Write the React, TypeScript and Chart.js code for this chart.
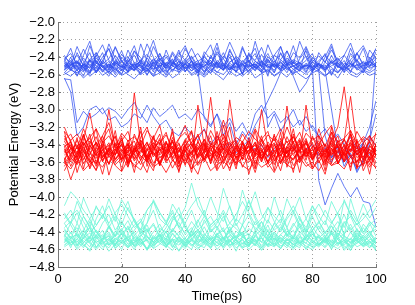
import React, { useEffect, useRef } from "react";
import { Chart, registerables } from "chart.js";

Chart.register(...registerables);

const TIME_PS = [2,4,6,8,10,12,14,16,18,20,22,24,26,28,30,32,34,36,38,40,42,44,46,48,50,52,54,56,58,60,62,64,66,68,70,72,74,76,78,80,82,84,86,88,90,92,94,96,98,100];
const X_TICKS = [0,20,40,60,80,100];
const Y_MIN = -4.8;
const Y_MAX = -2.0;
const Y_STEP = 0.2;

// Blue trajectories (eV)
const blue01 = [-2.52,-2.48,-2.55,-2.41,-2.50,-2.58,-2.46,-2.52,-2.38,-2.49,-2.56,-2.51,-2.44,-2.53,-2.60,-2.47,-2.50,-2.42,-2.55,-2.49,-2.52,-2.58,-2.45,-2.50,-2.36,-2.48,-2.54,-2.51,-2.47,-2.59,-2.50,-2.44,-2.53,-2.48,-2.56,-2.41,-2.50,-2.55,-2.47,-2.52,-2.49,-2.57,-2.43,-2.51,-2.54,-2.48,-2.50,-2.46,-2.53,-2.49];
const blue02 = [-2.47,-2.55,-2.50,-2.62,-2.44,-2.53,-2.40,-2.31,-2.48,-2.56,-2.45,-2.52,-2.58,-2.49,-2.43,-2.51,-2.61,-2.47,-2.52,-2.45,-2.39,-2.50,-2.57,-2.46,-2.53,-2.49,-2.60,-2.44,-2.51,-2.48,-2.55,-2.47,-2.36,-2.52,-2.49,-2.58,-2.45,-2.50,-2.54,-2.46,-2.52,-2.49,-2.61,-2.47,-2.53,-2.44,-2.55,-2.50,-2.48,-2.52];
const blue03 = [-2.58,-2.50,-2.44,-2.53,-2.27,-2.46,-2.55,-2.49,-2.60,-2.51,-2.46,-2.38,-2.52,-2.56,-2.48,-2.43,-2.50,-2.57,-2.45,-2.53,-2.49,-2.44,-2.58,-2.51,-2.47,-2.55,-2.40,-2.52,-2.48,-2.57,-2.45,-2.50,-2.59,-2.47,-2.53,-2.44,-2.51,-2.56,-2.30,-2.49,-2.55,-2.46,-2.52,-2.58,-2.47,-2.51,-2.43,-2.54,-2.50,-2.47];
const blue04 = [-2.45,-2.53,-2.61,-2.48,-2.52,-2.44,-2.57,-2.50,-2.46,-2.33,-2.51,-2.55,-2.47,-2.60,-2.50,-2.45,-2.53,-2.48,-2.42,-2.56,-2.50,-2.47,-2.53,-2.59,-2.46,-2.51,-2.55,-2.43,-2.49,-2.52,-2.48,-2.57,-2.44,-2.51,-2.28,-2.47,-2.54,-2.50,-2.58,-2.45,-2.51,-2.55,-2.47,-2.42,-2.50,-2.56,-2.48,-2.53,-2.45,-2.51];
const blue05 = [-2.50,-2.46,-2.52,-2.57,-2.43,-2.50,-2.55,-2.62,-2.48,-2.44,-2.53,-2.49,-2.55,-2.41,-2.51,-2.58,-2.46,-2.50,-2.54,-2.47,-2.56,-2.50,-2.43,-2.52,-2.48,-2.35,-2.51,-2.57,-2.49,-2.45,-2.53,-2.48,-2.50,-2.55,-2.46,-2.52,-2.60,-2.47,-2.51,-2.43,-2.49,-2.54,-2.50,-2.46,-2.57,-2.52,-2.44,-2.51,-2.56,-2.48];
const blue06 = [-2.42,-2.55,-2.35,-2.50,-2.60,-2.38,-2.52,-2.45,-2.58,-2.40,-2.48,-2.55,-2.25,-2.45,-2.57,-2.36,-2.50,-2.43,-2.58,-2.47,-2.40,-2.53,-2.60,-2.38,-2.49,-2.55,-2.31,-2.47,-2.59,-2.44,-2.52,-2.37,-2.50,-2.58,-2.43,-2.33,-2.51,-2.46,-2.57,-2.40,-2.49,-2.55,-2.38,-2.52,-2.44,-2.58,-2.35,-2.50,-2.46,-2.30];
const blue07 = [-2.55,-2.49,-2.46,-2.52,-2.48,-2.56,-2.44,-2.51,-2.53,-2.59,-2.47,-2.50,-2.45,-2.54,-2.62,-2.49,-2.52,-2.46,-2.50,-2.57,-2.44,-2.51,-2.48,-2.55,-2.50,-2.42,-2.53,-2.47,-2.56,-2.51,-2.22,-2.46,-2.52,-2.49,-2.55,-2.48,-2.44,-2.52,-2.50,-2.57,-2.47,-2.52,-2.45,-2.50,-2.55,-2.49,-2.53,-2.58,-2.46,-2.50];
const blue08 = [-2.40,-2.46,-2.38,-2.50,-2.43,-2.35,-2.48,-2.42,-2.29,-2.45,-2.40,-2.52,-2.44,-2.37,-2.47,-2.41,-2.50,-2.34,-2.45,-2.49,-2.42,-2.36,-2.47,-2.44,-2.52,-2.39,-2.46,-2.41,-2.48,-2.38,-2.45,-2.50,-2.40,-2.46,-2.36,-2.49,-2.43,-2.47,-2.39,-2.52,-2.44,-2.38,-2.47,-2.41,-2.50,-2.43,-2.36,-2.48,-2.45,-2.40];
const blue09 = [-2.60,-2.55,-2.58,-2.52,-2.62,-2.56,-2.50,-2.59,-2.54,-2.61,-2.57,-2.52,-2.60,-2.55,-2.49,-2.58,-2.63,-2.54,-2.57,-2.51,-2.59,-2.55,-2.61,-2.53,-2.57,-2.60,-2.52,-2.56,-2.62,-2.55,-2.50,-2.58,-2.54,-2.61,-2.56,-2.52,-2.59,-2.55,-2.60,-2.53,-2.57,-2.62,-2.54,-2.58,-2.51,-2.56,-2.60,-2.55,-2.58,-2.53];
const blue10 = [-2.48,-2.53,-2.45,-2.56,-2.50,-2.44,-2.52,-2.58,-2.47,-2.51,-2.55,-2.46,-2.50,-2.54,-2.42,-2.49,-2.57,-2.51,-2.45,-2.53,-2.48,-2.56,-2.50,-2.44,-2.52,-2.47,-2.55,-2.50,-2.28,-2.46,-2.53,-2.49,-2.57,-2.45,-2.51,-2.48,-2.62,-2.80,-2.70,-2.55,-2.49,-2.53,-2.46,-2.51,-2.55,-2.48,-2.52,-2.45,-2.50,-2.42];
const blue11 = [-2.65,-2.66,-3.15,-3.02,-3.10,-3.05,-2.98,-3.12,-3.08,-3.20,-3.15,-3.05,-3.10,-2.95,-3.08,-3.18,-3.12,-3.25,-3.30,-3.20,-3.28,-3.35,-3.22,-3.40,-3.30,-3.45,-3.38,-3.50,-3.42,-3.35,-3.48,-3.40,-3.55,-3.45,-3.38,-3.50,-3.42,-3.58,-3.46,-3.40,-3.52,-3.44,-3.60,-3.48,-3.42,-3.55,-3.47,-3.40,-3.52,-3.45];
const blue12 = [-2.64,-2.80,-3.30,-3.20,-3.00,-2.96,-3.05,-2.98,-3.02,-3.10,-3.00,-2.92,-3.05,-3.15,-2.98,-3.08,-3.02,-2.95,-3.10,-3.05,-3.12,-3.00,-3.08,-3.18,-3.05,-3.20,-3.10,-3.25,-3.15,-3.30,-3.05,-2.95,-3.10,-3.02,-3.15,-3.08,-3.20,-3.12,-3.25,-3.18,-3.30,-3.22,-3.35,-3.28,-3.40,-3.32,-3.45,-3.38,-3.30,-3.42];
const blue13 = [-2.51,-2.47,-2.54,-2.49,-2.56,-2.45,-2.52,-2.48,-2.55,-2.50,-2.43,-2.53,-2.49,-2.57,-2.46,-2.52,-2.40,-2.50,-2.55,-2.47,-2.53,-2.48,-2.51,-2.58,-2.44,-2.50,-2.54,-2.47,-2.52,-2.49,-2.56,-2.45,-2.51,-2.48,-2.53,-2.50,-2.46,-2.54,-2.49,-2.52,-3.81,-4.09,-3.90,-3.73,-3.88,-4.00,-3.89,-4.05,-4.07,-4.34];
const blue14 = [-2.50,-2.55,-2.47,-2.52,-2.44,-2.58,-2.49,-2.53,-2.46,-2.51,-2.57,-2.48,-2.52,-2.45,-2.54,-2.50,-2.47,-2.55,-2.49,-2.43,-2.52,-2.48,-2.56,-2.50,-2.46,-2.53,-2.49,-2.57,-2.44,-2.51,-2.48,-2.54,-3.20,-3.05,-3.25,-3.12,-3.00,-3.18,-3.08,-3.22,-3.30,-3.42,-3.55,-3.48,-3.60,-3.45,-3.52,-3.38,-3.20,-2.90];
const blue15 = [-2.46,-2.52,-2.49,-2.55,-2.43,-2.50,-2.57,-2.48,-2.53,-2.45,-2.51,-2.56,-2.47,-2.50,-2.54,-2.42,-2.49,-2.55,-2.48,-2.52,-2.45,-2.53,-2.50,-2.47,-2.58,-2.49,-2.52,-2.46,-2.54,-2.50,-2.48,-2.55,-2.43,-2.51,-2.47,-2.53,-2.50,-2.56,-2.49,-2.52,-2.47,-2.55,-3.00,-3.45,-3.60,-3.52,-3.70,-3.58,-3.40,-2.40];
const blue16 = [-2.54,-2.49,-2.45,-2.52,-2.58,-2.47,-2.51,-2.55,-2.44,-2.50,-2.53,-2.48,-2.56,-2.50,-2.46,-2.52,-2.59,-2.47,-2.51,-2.45,-2.50,-2.55,-3.10,-3.20,-3.05,-3.30,-3.15,-3.40,-3.25,-3.35,-3.18,-3.05,-2.90,-2.75,-2.58,-2.50,-2.46,-2.53,-2.49,-2.55,-2.48,-2.52,-2.45,-2.57,-2.50,-2.47,-2.53,-2.49,-2.44,-2.51];
const blue17 = [-2.45,-2.30,-2.52,-2.38,-2.22,-2.48,-2.35,-2.55,-2.28,-2.44,-2.58,-2.33,-2.47,-2.25,-2.40,-2.56,-2.32,-2.50,-2.38,-2.27,-2.46,-2.55,-2.34,-2.42,-2.24,-2.50,-2.37,-2.58,-2.30,-2.45,-2.36,-2.52,-2.26,-2.43,-2.55,-2.33,-2.48,-2.22,-2.40,-2.57,-2.35,-2.46,-2.28,-2.52,-2.38,-2.24,-2.45,-2.55,-2.32,-2.42];
const blue18 = [-2.55,-2.40,-2.62,-2.47,-2.35,-2.58,-2.44,-2.30,-2.52,-2.60,-2.42,-2.27,-2.50,-2.61,-2.45,-2.36,-2.55,-2.48,-2.32,-2.57,-2.44,-2.62,-2.38,-2.50,-2.29,-2.55,-2.46,-2.40,-2.60,-2.35,-2.52,-2.45,-2.62,-2.38,-2.28,-2.50,-2.58,-2.42,-2.33,-2.55,-2.47,-2.36,-2.60,-2.44,-2.52,-2.30,-2.48,-2.58,-2.40,-2.50];
const blue19 = [-2.38,-2.50,-2.28,-2.45,-2.58,-2.35,-2.48,-2.25,-2.42,-2.55,-2.32,-2.47,-2.60,-2.40,-2.21,-2.45,-2.53,-2.36,-2.50,-2.30,-2.44,-2.58,-2.38,-2.26,-2.48,-2.55,-2.33,-2.45,-2.60,-2.40,-2.30,-2.52,-2.42,-2.58,-2.35,-2.48,-2.27,-2.50,-2.44,-2.36,-2.55,-2.40,-2.25,-2.48,-2.58,-2.36,-2.45,-2.30,-2.52,-2.34];
const blue20 = [-2.58,-2.62,-2.55,-2.64,-2.57,-2.52,-2.61,-2.56,-2.63,-2.54,-2.60,-2.65,-2.57,-2.53,-2.62,-2.58,-2.55,-2.64,-2.59,-2.52,-2.61,-2.57,-2.63,-2.55,-2.60,-2.66,-2.56,-2.62,-2.58,-2.53,-2.64,-2.59,-2.55,-2.62,-2.57,-2.63,-2.54,-2.60,-2.65,-2.58,-2.55,-2.61,-2.57,-2.64,-2.52,-2.60,-2.63,-2.56,-2.61,-2.58];
const blue21 = [-2.50,-2.44,-2.56,-2.48,-2.53,-2.41,-2.50,-2.57,-2.46,-2.52,-2.49,-2.55,-2.43,-2.51,-2.47,-2.58,-2.50,-2.45,-2.53,-2.48,-2.56,-2.46,-2.52,-2.40,-2.50,-2.55,-2.47,-2.53,-2.49,-2.44,-2.52,-2.57,-2.48,-2.51,-2.45,-2.55,-2.50,-2.47,-2.53,-2.49,-2.55,-3.30,-3.55,-3.42,-3.65,-3.50,-3.72,-3.58,-3.35,-3.05];
const blue22 = [-2.42,-2.36,-2.48,-2.31,-2.45,-2.39,-2.26,-2.44,-2.50,-2.37,-2.46,-2.33,-2.41,-2.49,-2.28,-2.43,-2.38,-2.47,-2.35,-2.44,-2.30,-2.45,-2.40,-2.48,-2.34,-2.42,-2.23,-2.39,-2.46,-2.37,-2.44,-2.29,-2.47,-2.38,-2.43,-2.50,-2.35,-2.41,-2.28,-2.45,-2.39,-2.46,-2.32,-2.44,-2.38,-2.48,-2.36,-2.27,-2.43,-2.31];

// Red trajectories (eV)
const red01 = [-3.40,-3.52,-3.35,-3.48,-3.60,-3.42,-3.30,-3.55,-3.45,-3.38,-3.50,-2.81,-3.40,-3.58,-3.46,-3.35,-3.52,-3.44,-3.62,-3.40,-3.33,-3.49,-3.57,-3.41,-3.50,-3.36,-3.47,-3.55,-3.39,-3.51,-3.44,-3.60,-3.37,-3.48,-3.53,-3.42,-3.31,-3.50,-3.46,-3.57,-3.40,-3.49,-3.35,-3.54,-3.45,-3.38,-3.52,-3.43,-3.58,-3.47];
const red02 = [-3.55,-3.80,-3.60,-3.45,-3.52,-3.38,-3.50,-3.62,-3.47,-3.40,-3.56,-3.49,-3.35,-3.51,-3.64,-3.43,-3.48,-3.37,-3.55,-3.46,-3.60,-2.95,-3.42,-3.53,-3.47,-3.39,-3.58,-3.45,-3.50,-3.36,-3.52,-3.44,-3.61,-3.48,-3.40,-3.55,-3.46,-3.33,-3.50,-3.57,-3.43,-3.51,-3.38,-3.62,-3.47,-3.41,-3.55,-3.49,-3.36,-3.52];
const red03 = [-3.30,-3.45,-3.58,-3.40,-3.33,-3.50,-3.46,-3.62,-3.38,-3.52,-3.44,-3.36,-3.55,-3.47,-3.41,-3.60,-3.49,-3.35,-3.53,-3.45,-3.39,-3.56,-3.48,-2.86,-3.42,-3.58,-3.46,-3.37,-3.51,-3.43,-3.62,-3.47,-3.40,-3.54,-3.36,-3.49,-3.57,-3.44,-3.39,-3.52,-3.46,-3.60,-3.41,-3.50,-3.34,-3.55,-3.47,-3.43,-3.59,-3.40];
const red04 = [-3.48,-3.40,-3.55,-3.35,-3.04,-3.42,-3.58,-3.47,-3.52,-3.39,-3.61,-3.45,-3.50,-3.37,-3.54,-3.46,-3.43,-3.59,-3.48,-3.36,-3.52,-3.44,-3.57,-3.41,-3.49,-3.55,-2.89,-3.40,-3.53,-3.47,-3.38,-3.56,-3.45,-3.51,-3.62,-3.43,-3.48,-3.35,-3.54,-3.46,-3.41,-3.57,-3.49,-3.37,-3.53,-3.45,-3.60,-3.42,-3.50,-3.55];
const red05 = [-3.62,-3.50,-3.44,-3.57,-3.41,-3.53,-3.47,-3.00,-3.45,-3.58,-3.40,-3.52,-3.63,-3.46,-3.38,-3.55,-3.49,-3.42,-3.60,-3.48,-3.37,-3.53,-3.45,-3.59,-3.43,-3.51,-3.39,-3.56,-3.47,-3.42,-3.54,-3.00,-3.44,-3.57,-3.49,-3.36,-3.52,-3.61,-3.45,-3.50,-3.38,-3.55,-3.47,-3.43,-3.58,-3.40,-3.51,-3.46,-3.63,-3.44];
const red06 = [-3.45,-3.60,-3.52,-3.38,-3.49,-3.56,-3.42,-3.63,-3.47,-3.35,-3.53,-3.44,-3.58,-3.40,-3.51,-3.47,-3.36,-3.55,-3.43,-3.62,-3.48,-3.41,-3.54,-3.46,-3.37,-3.59,-3.50,-3.44,-3.57,-3.39,-3.52,-3.46,-3.61,-3.40,-3.53,-2.96,-3.44,-3.55,-3.49,-3.38,-3.57,-3.45,-3.52,-3.41,-3.60,-3.48,-3.36,-3.54,-3.46,-3.51];
const red07 = [-3.52,-3.46,-3.40,-3.62,-3.50,-3.37,-3.55,-3.44,-3.58,-3.48,-3.39,-3.56,-3.47,-3.53,-3.42,-3.64,-3.45,-3.51,-3.38,-3.57,-3.49,-3.43,-3.60,-3.46,-3.54,-3.40,-3.52,-3.48,-3.36,-3.58,-3.45,-3.53,-3.41,-3.59,-3.47,-3.50,-3.38,-3.56,-2.95,-3.44,-3.61,-3.47,-3.53,-3.40,-3.56,-3.45,-3.50,-3.63,-3.42,-3.48];
const red08 = [-3.36,-3.49,-3.55,-3.43,-3.61,-3.47,-3.39,-3.52,-3.45,-3.57,-3.48,-3.41,-3.53,-3.60,-3.44,-3.50,-3.37,-3.56,-3.46,-3.52,-3.59,-3.45,-3.38,-3.51,-3.48,-3.62,-3.43,-3.55,-3.50,-3.41,-3.57,-3.48,-3.53,-3.44,-3.39,-3.58,-3.50,-3.46,-3.54,-3.42,-3.47,-3.55,-3.36,-3.20,-2.74,-3.30,-3.52,-3.45,-3.58,-3.49];
const red09 = [-3.58,-3.44,-3.49,-3.37,-3.54,-3.62,-3.46,-3.41,-3.56,-3.50,-3.43,-3.59,-3.47,-3.38,-3.52,-3.45,-3.61,-3.48,-3.40,-3.55,-3.46,-3.52,-3.39,-3.57,-3.50,-3.44,-3.63,-3.47,-3.53,-3.41,-3.49,-3.56,-3.45,-3.38,-3.60,-3.48,-3.43,-3.55,-3.50,-3.46,-3.53,-3.40,-3.58,-3.47,-3.35,-2.85,-3.42,-3.56,-3.49,-3.60];
const red10 = [-3.60,-3.68,-3.55,-3.70,-3.62,-3.58,-3.66,-3.52,-3.64,-3.71,-3.57,-3.63,-3.69,-3.54,-3.66,-3.60,-3.72,-3.58,-3.65,-3.56,-3.68,-3.61,-3.55,-3.70,-3.63,-3.59,-3.67,-3.53,-3.64,-3.69,-3.58,-3.66,-3.61,-3.72,-3.56,-3.63,-3.68,-3.55,-3.65,-3.60,-3.70,-3.57,-3.64,-3.61,-3.68,-3.54,-3.66,-3.62,-3.59,-3.67];
const red11 = [-3.25,-3.35,-3.28,-3.40,-3.32,-3.22,-3.38,-3.30,-3.44,-3.27,-3.36,-3.31,-3.42,-3.24,-3.34,-3.39,-3.29,-3.45,-3.33,-3.26,-3.38,-3.30,-3.23,-3.41,-3.35,-3.28,-3.43,-3.32,-3.37,-3.25,-3.34,-3.40,-3.29,-3.36,-3.22,-3.38,-3.31,-3.44,-3.27,-3.35,-3.30,-3.42,-3.26,-3.37,-3.33,-3.24,-3.39,-3.31,-3.36,-3.28];
const red12 = [-3.47,-3.58,-3.41,-3.53,-3.66,-3.44,-3.50,-3.38,-3.57,-3.45,-3.62,-3.49,-3.42,-3.55,-3.47,-3.33,-3.59,-3.51,-3.44,-3.64,-3.40,-3.54,-3.48,-3.36,-3.57,-3.45,-3.52,-3.61,-3.43,-3.50,-3.37,-3.55,-3.47,-3.63,-3.42,-3.51,-3.58,-3.46,-3.33,-3.54,-3.49,-3.62,-3.44,-3.56,-3.40,-3.53,-3.47,-3.65,-3.41,-3.52];
const red13 = [-3.33,-3.44,-3.51,-3.29,-3.46,-3.38,-3.55,-3.42,-3.31,-3.48,-3.40,-3.57,-3.35,-3.46,-3.30,-3.52,-3.43,-3.37,-3.49,-3.34,-3.45,-3.28,-3.50,-3.39,-3.44,-3.32,-3.55,-3.41,-3.47,-3.36,-3.51,-3.34,-3.45,-3.40,-3.56,-3.31,-3.47,-3.39,-3.53,-3.43,-3.36,-3.48,-3.42,-3.30,-3.54,-3.38,-3.45,-3.33,-3.50,-3.41];
const red14 = [-3.65,-3.52,-3.60,-3.47,-3.58,-3.69,-3.54,-3.48,-3.63,-3.56,-3.51,-3.66,-3.58,-3.45,-3.61,-3.55,-3.50,-3.67,-3.53,-3.59,-3.48,-3.64,-3.56,-3.52,-3.70,-3.57,-3.46,-3.62,-3.55,-3.60,-3.53,-3.49,-3.66,-3.58,-3.51,-3.63,-3.56,-3.47,-3.61,-3.68,-3.55,-3.50,-3.64,-3.57,-3.48,-3.62,-3.59,-3.53,-3.66,-3.51];
const red15 = [-3.42,-3.37,-3.50,-3.58,-3.44,-3.31,-3.53,-3.47,-3.40,-3.56,-3.35,-3.49,-3.43,-3.60,-3.38,-3.45,-3.54,-3.32,-3.48,-3.41,-3.55,-3.46,-3.34,-3.50,-3.59,-3.42,-3.37,-3.52,-3.44,-3.48,-3.40,-3.57,-3.45,-3.33,-3.49,-3.54,-3.41,-3.47,-3.36,-3.58,-3.44,-3.39,-3.51,-3.46,-3.60,-3.35,-3.48,-3.43,-3.55,-3.40];
const red16 = [-3.50,-3.41,-3.63,-3.52,-3.36,-3.47,-3.59,-3.44,-3.51,-3.33,-3.58,-3.46,-3.40,-3.54,-3.49,-3.62,-3.38,-3.47,-3.56,-3.43,-3.51,-3.37,-3.49,-3.44,-3.61,-3.53,-3.42,-3.35,-3.58,-3.46,-3.41,-3.52,-3.59,-3.47,-3.44,-3.55,-3.36,-3.60,-3.48,-3.53,-3.45,-3.58,-3.50,-3.39,-3.46,-3.52,-3.61,-3.48,-3.37,-3.54];
const red17 = [-3.25,-3.55,-3.32,-3.68,-3.40,-3.22,-3.60,-3.45,-3.30,-3.70,-3.38,-3.52,-3.20,-3.65,-3.42,-3.28,-3.58,-3.35,-3.72,-3.44,-3.25,-3.62,-3.48,-3.30,-3.55,-3.18,-3.46,-3.68,-3.36,-3.52,-3.24,-3.60,-3.40,-3.70,-3.33,-3.50,-3.22,-3.58,-3.44,-3.66,-3.30,-3.54,-3.20,-3.62,-3.45,-3.28,-3.68,-3.38,-3.56,-3.26];
const red18 = [-3.60,-3.35,-3.72,-3.48,-3.28,-3.62,-3.40,-3.75,-3.52,-3.30,-3.65,-3.45,-3.25,-3.58,-3.70,-3.38,-3.55,-3.22,-3.62,-3.46,-3.72,-3.35,-3.58,-3.42,-3.68,-3.28,-3.50,-3.64,-3.38,-3.74,-3.48,-3.30,-3.62,-3.55,-3.26,-3.66,-3.44,-3.72,-3.35,-3.58,-3.42,-3.70,-3.32,-3.60,-3.50,-3.24,-3.66,-3.46,-3.74,-3.38];
const red19 = [-3.42,-3.65,-3.50,-3.28,-3.58,-3.70,-3.36,-3.52,-3.24,-3.60,-3.46,-3.72,-3.38,-3.55,-3.30,-3.64,-3.48,-3.26,-3.58,-3.40,-3.68,-3.52,-3.34,-3.62,-3.25,-3.50,-3.70,-3.42,-3.56,-3.32,-3.66,-3.40,-3.54,-3.28,-3.62,-3.46,-3.72,-3.36,-3.58,-3.30,-3.50,-3.64,-3.26,-3.55,-3.40,-3.70,-3.34,-3.60,-3.45,-3.68];
const red20 = [-3.20,-3.38,-3.55,-3.30,-3.48,-3.65,-3.35,-3.22,-3.52,-3.40,-3.62,-3.28,-3.45,-3.58,-3.33,-3.18,-3.50,-3.42,-3.66,-3.36,-3.24,-3.55,-3.40,-3.62,-3.30,-3.46,-3.20,-3.58,-3.38,-3.52,-3.68,-3.34,-3.25,-3.50,-3.44,-3.60,-3.28,-3.48,-3.38,-3.56,-3.22,-3.45,-3.62,-3.35,-3.52,-3.28,-3.42,-3.58,-3.30,-3.48];
const red21 = [-3.70,-3.55,-3.62,-3.40,-3.68,-3.50,-3.74,-3.45,-3.60,-3.52,-3.66,-3.42,-3.58,-3.72,-3.48,-3.64,-3.38,-3.56,-3.70,-3.46,-3.62,-3.74,-3.50,-3.58,-3.44,-3.68,-3.55,-3.40,-3.66,-3.52,-3.72,-3.46,-3.60,-3.52,-3.70,-3.42,-3.64,-3.55,-3.48,-3.68,-3.58,-3.74,-3.44,-3.62,-3.50,-3.66,-3.40,-3.70,-3.54,-3.62];
const red22 = [-3.35,-3.28,-3.45,-3.22,-3.40,-3.52,-3.30,-3.15,-3.42,-3.36,-3.25,-3.48,-3.32,-3.20,-3.44,-3.38,-3.26,-3.50,-3.34,-3.18,-3.42,-3.30,-3.46,-3.24,-3.38,-3.12,-3.35,-3.45,-3.28,-3.40,-3.22,-3.36,-3.48,-3.30,-3.42,-3.20,-3.38,-3.26,-3.46,-3.32,-3.40,-3.28,-3.18,-3.44,-3.34,-3.48,-3.25,-3.38,-3.30,-3.42];

// Cyan trajectories (eV)
const cyan01 = [-4.10,-3.94,-4.02,-4.15,-4.25,-4.12,-4.20,-4.30,-4.18,-4.08,-4.22,-4.35,-4.28,-4.15,-4.05,-4.18,-4.30,-4.40,-4.25,-4.12,-3.84,-4.10,-4.22,-4.35,-4.28,-4.15,-4.30,-4.20,-4.05,-4.18,-4.32,-4.25,-4.12,-4.28,-4.38,-4.22,-4.10,-4.25,-4.35,-4.20,-4.08,-4.22,-4.30,-4.18,-4.05,-4.20,-4.32,-4.25,-4.15,-4.03];
const cyan02 = [-4.25,-4.15,-4.30,-4.01,-4.18,-4.32,-4.22,-4.10,-4.28,-4.03,-4.15,-4.25,-4.38,-4.30,-4.03,-4.18,-4.28,-4.15,-4.35,-4.22,-4.10,-4.00,-4.20,-4.32,-4.25,-3.90,-4.12,-4.28,-3.92,-4.15,-3.94,-4.20,-4.30,-4.00,-4.22,-4.35,-4.18,-4.00,-4.25,-4.38,-4.30,-4.15,-4.28,-4.40,-4.03,-4.20,-4.32,-4.18,-4.28,-4.35];
const cyan03 = [-4.35,-4.28,-4.40,-4.22,-4.33,-4.45,-4.30,-4.20,-4.38,-4.27,-4.42,-4.32,-4.25,-4.40,-4.30,-4.45,-4.35,-4.22,-4.33,-4.41,-4.28,-4.38,-4.45,-4.32,-4.25,-4.40,-4.30,-4.36,-4.44,-4.28,-4.35,-4.42,-4.26,-4.38,-4.31,-4.45,-4.33,-4.22,-4.40,-4.30,-4.37,-4.27,-4.43,-4.35,-4.20,-4.38,-4.30,-4.42,-4.28,-4.36];
const cyan04 = [-4.45,-4.30,-4.18,-4.35,-4.48,-4.25,-4.10,-4.32,-4.45,-4.20,-4.05,-4.28,-4.42,-4.30,-4.15,-4.38,-4.50,-4.25,-4.12,-4.35,-4.45,-4.28,-4.15,-4.40,-4.30,-4.18,-4.42,-4.50,-4.32,-4.20,-4.38,-4.28,-4.45,-4.30,-4.15,-4.35,-4.48,-4.25,-4.40,-4.10,-4.28,-4.42,-4.30,-4.18,-4.45,-4.02,-4.25,-4.40,-4.30,-4.45];
const cyan05 = [-4.50,-4.45,-4.55,-4.42,-4.52,-4.58,-4.47,-4.40,-4.53,-4.49,-4.56,-4.44,-4.51,-4.60,-4.48,-4.43,-4.54,-4.50,-4.46,-4.57,-4.42,-4.52,-4.48,-4.55,-4.45,-4.59,-4.50,-4.44,-4.53,-4.47,-4.56,-4.41,-4.50,-4.54,-4.46,-4.52,-4.58,-4.45,-4.49,-4.55,-4.43,-4.51,-4.57,-4.47,-4.53,-4.40,-4.50,-4.56,-4.48,-4.52];
const cyan06 = [-4.42,-4.55,-4.48,-4.38,-4.50,-4.45,-4.57,-4.52,-4.44,-4.36,-4.49,-4.55,-4.43,-4.51,-4.58,-4.46,-4.40,-4.53,-4.48,-4.56,-4.50,-4.39,-4.47,-4.54,-4.44,-4.52,-4.37,-4.49,-4.57,-4.45,-4.51,-4.46,-4.55,-4.40,-4.48,-4.56,-4.43,-4.52,-4.47,-4.38,-4.55,-4.49,-4.42,-4.53,-4.46,-4.58,-4.41,-4.50,-4.45,-4.54];
const cyan07 = [-4.55,-4.50,-4.58,-4.47,-4.53,-4.60,-4.52,-4.48,-4.56,-4.51,-4.45,-4.57,-4.53,-4.49,-4.59,-4.54,-4.47,-4.55,-4.61,-4.50,-4.56,-4.48,-4.53,-4.58,-4.51,-4.46,-4.55,-4.52,-4.59,-4.49,-4.54,-4.60,-4.50,-4.47,-4.56,-4.52,-4.58,-4.49,-4.53,-4.57,-4.51,-4.46,-4.55,-4.59,-4.52,-4.48,-4.57,-4.53,-4.50,-4.62];
const cyan08 = [-4.38,-4.46,-4.52,-4.41,-4.35,-4.48,-4.43,-4.55,-4.39,-4.47,-4.33,-4.50,-4.44,-4.37,-4.52,-4.42,-4.48,-4.36,-4.45,-4.53,-4.40,-4.47,-4.34,-4.49,-4.43,-4.38,-4.51,-4.45,-4.40,-4.55,-4.44,-4.37,-4.48,-4.42,-4.53,-4.39,-4.46,-4.34,-4.50,-4.43,-4.47,-4.40,-4.52,-4.38,-4.45,-4.49,-4.36,-4.48,-4.42,-4.51];
const cyan09 = [-4.52,-4.47,-4.43,-4.56,-4.50,-4.45,-4.53,-4.58,-4.48,-4.42,-4.54,-4.49,-4.57,-4.46,-4.51,-4.44,-4.55,-4.48,-4.52,-4.59,-4.47,-4.54,-4.42,-4.50,-4.56,-4.48,-4.45,-4.53,-4.49,-4.57,-4.43,-4.51,-4.55,-4.47,-4.52,-4.58,-4.46,-4.54,-4.44,-4.50,-4.56,-4.48,-4.53,-4.45,-4.59,-4.51,-4.47,-4.55,-4.52,-4.46];
const cyan10 = [-4.30,-4.42,-4.35,-4.48,-4.28,-4.40,-4.50,-4.33,-4.45,-4.38,-4.27,-4.44,-4.36,-4.50,-4.40,-4.31,-4.46,-4.38,-4.29,-4.43,-4.35,-4.48,-4.26,-4.40,-4.33,-4.47,-4.38,-4.30,-4.45,-4.36,-4.42,-4.28,-4.40,-4.49,-4.34,-4.44,-4.30,-4.41,-4.36,-4.47,-4.33,-4.45,-4.38,-4.28,-4.42,-4.35,-4.48,-4.31,-4.40,-4.37];
const cyan11 = [-4.48,-4.53,-4.45,-4.50,-4.57,-4.43,-4.51,-4.55,-4.47,-4.52,-4.58,-4.46,-4.50,-4.44,-4.56,-4.49,-4.53,-4.42,-4.51,-4.47,-4.55,-4.50,-4.45,-4.52,-4.48,-4.57,-4.43,-4.50,-4.54,-4.46,-4.52,-4.58,-4.45,-4.51,-4.47,-4.53,-4.49,-4.56,-4.42,-4.50,-4.54,-4.47,-4.51,-4.56,-4.44,-4.52,-4.49,-4.46,-4.58,-4.50];
const cyan12 = [-4.44,-4.50,-4.56,-4.47,-4.41,-4.52,-4.48,-4.45,-4.59,-4.51,-4.46,-4.40,-4.53,-4.49,-4.55,-4.43,-4.50,-4.57,-4.45,-4.52,-4.48,-4.56,-4.50,-4.44,-4.53,-4.47,-4.58,-4.51,-4.46,-4.42,-4.50,-4.55,-4.48,-4.56,-4.43,-4.50,-4.46,-4.53,-4.59,-4.48,-4.45,-4.52,-4.40,-4.49,-4.55,-4.47,-4.53,-4.44,-4.51,-4.56];
const cyan13 = [-4.20,-4.32,-4.45,-4.38,-4.25,-4.40,-4.48,-4.35,-4.22,-4.42,-4.50,-4.38,-4.28,-4.45,-4.52,-4.40,-4.30,-4.18,-4.35,-4.47,-4.38,-4.26,-4.42,-4.50,-4.36,-4.22,-4.40,-4.47,-4.32,-4.45,-4.28,-4.40,-4.50,-4.35,-4.25,-4.43,-4.48,-4.30,-4.42,-4.22,-4.38,-4.47,-4.33,-4.45,-4.28,-4.40,-4.50,-4.35,-4.45,-4.30];
const cyan14 = [-4.57,-4.52,-4.48,-4.55,-4.60,-4.50,-4.54,-4.47,-4.58,-4.53,-4.49,-4.56,-4.51,-4.59,-4.46,-4.53,-4.57,-4.50,-4.55,-4.48,-4.54,-4.60,-4.51,-4.47,-4.56,-4.52,-4.49,-4.58,-4.53,-4.55,-4.50,-4.47,-4.57,-4.53,-4.59,-4.48,-4.54,-4.51,-4.56,-4.60,-4.52,-4.58,-4.49,-4.54,-4.50,-4.57,-4.53,-4.48,-4.55,-4.59];
const cyan15 = [-4.40,-4.47,-4.42,-4.52,-4.45,-4.38,-4.50,-4.44,-4.55,-4.41,-4.48,-4.53,-4.39,-4.46,-4.51,-4.43,-4.56,-4.47,-4.40,-4.50,-4.44,-4.37,-4.49,-4.54,-4.42,-4.48,-4.52,-4.39,-4.46,-4.50,-4.55,-4.43,-4.47,-4.40,-4.51,-4.45,-4.38,-4.53,-4.46,-4.42,-4.50,-4.44,-4.56,-4.41,-4.48,-4.52,-4.43,-4.47,-4.39,-4.54];
const cyan16 = [-4.30,-4.22,-4.15,-4.28,-4.40,-4.33,-4.20,-4.35,-4.45,-4.30,-4.38,-4.25,-4.42,-4.32,-4.48,-4.36,-4.40,-4.27,-4.20,-4.35,-4.45,-4.38,-4.30,-4.22,-4.36,-4.48,-4.40,-4.25,-4.32,-4.03,-4.22,-4.35,-4.45,-4.30,-4.40,-4.25,-4.15,-4.32,-4.45,-4.38,-4.28,-4.40,-4.33,-4.46,-4.30,-4.22,-4.38,-4.45,-4.32,-4.25];
const cyan17 = [-4.45,-4.58,-4.40,-4.53,-4.62,-4.47,-4.38,-4.55,-4.50,-4.60,-4.42,-4.56,-4.48,-4.61,-4.44,-4.52,-4.39,-4.58,-4.46,-4.54,-4.60,-4.43,-4.51,-4.57,-4.41,-4.55,-4.48,-4.62,-4.45,-4.53,-4.40,-4.58,-4.50,-4.44,-4.59,-4.47,-4.55,-4.42,-4.60,-4.51,-4.46,-4.57,-4.41,-4.54,-4.49,-4.61,-4.44,-4.52,-4.58,-4.47];
const cyan18 = [-4.52,-4.40,-4.55,-4.46,-4.35,-4.58,-4.49,-4.42,-4.56,-4.38,-4.50,-4.60,-4.45,-4.36,-4.53,-4.47,-4.58,-4.41,-4.50,-4.55,-4.38,-4.52,-4.46,-4.59,-4.43,-4.35,-4.55,-4.48,-4.40,-4.57,-4.45,-4.52,-4.37,-4.56,-4.49,-4.42,-4.58,-4.46,-4.53,-4.39,-4.55,-4.47,-4.60,-4.41,-4.50,-4.56,-4.38,-4.52,-4.45,-4.58];
const cyan19 = [-4.18,-4.30,-4.05,-4.22,-4.35,-4.10,-4.25,-4.02,-4.20,-4.32,-4.12,-4.28,-4.38,-4.15,-4.05,-4.25,-4.32,-4.08,-4.20,-4.30,-4.15,-4.35,-4.22,-4.00,-4.18,-4.28,-4.10,-4.33,-4.20,-4.05,-4.25,-4.38,-4.12,-4.22,-4.30,-4.02,-4.18,-4.35,-4.25,-4.10,-4.22,-4.32,-4.05,-4.20,-4.35,-4.15,-4.28,-4.08,-4.24,-4.12];
const cyan20 = [-4.48,-4.55,-4.50,-4.58,-4.45,-4.52,-4.60,-4.49,-4.54,-4.46,-4.57,-4.51,-4.48,-4.59,-4.53,-4.47,-4.55,-4.61,-4.50,-4.56,-4.49,-4.54,-4.58,-4.46,-4.52,-4.57,-4.50,-4.55,-4.48,-4.60,-4.53,-4.47,-4.56,-4.51,-4.59,-4.49,-4.54,-4.58,-4.46,-4.52,-4.57,-4.50,-4.55,-4.48,-4.61,-4.53,-4.49,-4.56,-4.51,-4.59];
const cyan21 = [-4.36,-4.48,-4.30,-4.44,-4.52,-4.38,-4.46,-4.33,-4.50,-4.42,-4.35,-4.47,-4.55,-4.40,-4.32,-4.46,-4.52,-4.38,-4.44,-4.30,-4.48,-4.40,-4.53,-4.36,-4.45,-4.50,-4.34,-4.47,-4.42,-4.55,-4.38,-4.46,-4.32,-4.50,-4.43,-4.36,-4.52,-4.40,-4.47,-4.34,-4.45,-4.53,-4.38,-4.48,-4.42,-4.31,-4.46,-4.54,-4.40,-4.49];
const cyan22 = [-4.55,-4.48,-4.60,-4.52,-4.46,-4.57,-4.50,-4.62,-4.54,-4.49,-4.58,-4.52,-4.47,-4.60,-4.55,-4.50,-4.57,-4.48,-4.62,-4.53,-4.50,-4.58,-4.54,-4.47,-4.60,-4.52,-4.56,-4.49,-4.58,-4.55,-4.48,-4.61,-4.53,-4.57,-4.50,-4.55,-4.60,-4.52,-4.47,-4.58,-4.54,-4.49,-4.59,-4.52,-4.56,-4.61,-4.50,-4.57,-4.53,-4.48];

const BLUE_SERIES = [blue01,blue02,blue03,blue04,blue05,blue06,blue07,blue08,blue09,blue10,blue11,blue12,blue13,blue14,blue15,blue16,blue17,blue18,blue19,blue20,blue21,blue22];
const RED_SERIES = [red01,red02,red03,red04,red05,red06,red07,red08,red09,red10,red11,red12,red13,red14,red15,red16,red17,red18,red19,red20,red21,red22];
const CYAN_SERIES = [cyan01,cyan02,cyan03,cyan04,cyan05,cyan06,cyan07,cyan08,cyan09,cyan10,cyan11,cyan12,cyan13,cyan14,cyan15,cyan16,cyan17,cyan18,cyan19,cyan20,cyan21,cyan22];

const BLUE = "rgba(50,80,240,0.75)";
const RED = "rgba(255,0,0,0.78)";
const CYAN = "rgba(110,245,215,0.8)";

const FONT = "'Liberation Sans', Arial, Helvetica, sans-serif";

function makeDatasets(series: number[][], color: string, order: number) {
  return series.map((vals) => ({
    data: TIME_PS.map((t, i) => ({ x: t, y: vals[i] })),
    borderColor: color,
    borderWidth: 1,
    pointRadius: 0,
    tension: 0,
    fill: false,
    order,
  }));
}

const inwardTicks = {
  id: "inwardTicks",
  afterDraw(chart: any) {
    const { ctx, chartArea, scales } = chart;
    ctx.save();
    ctx.strokeStyle = "#777";
    ctx.lineWidth = 1;
    ctx.beginPath();
    scales.y.ticks.forEach((tk: any) => {
      const py = Math.round(scales.y.getPixelForValue(tk.value)) + 0.5;
      ctx.moveTo(chartArea.left, py);
      ctx.lineTo(chartArea.left + 3, py);
    });
    scales.x.ticks.forEach((tk: any) => {
      const px = Math.round(scales.x.getPixelForValue(tk.value)) + 0.5;
      ctx.moveTo(px, chartArea.bottom);
      ctx.lineTo(px, chartArea.bottom - 3);
    });
    ctx.stroke();
    ctx.restore();
  },
};

export default function App() {
  const ref = useRef<HTMLCanvasElement>(null);
  useEffect(() => {
    document.body.style.margin = "0";
    const canvas = ref.current;
    if (!canvas) return;
    const chart = new Chart(canvas, {
      type: "line",
      data: {
        datasets: [
          ...makeDatasets(RED_SERIES, RED, 1),
          ...makeDatasets(CYAN_SERIES, CYAN, 2),
          ...makeDatasets(BLUE_SERIES, BLUE, 3),
        ],
      },
      options: {
        animation: false,
        responsive: false,
        devicePixelRatio: 1,
        layout: { padding: { top: 22, right: 39, bottom: 0, left: 0 } },
        plugins: { legend: { display: false }, tooltip: { enabled: false } },
        scales: {
          x: {
            type: "linear",
            min: 0,
            max: 100,
            afterBuildTicks: (scale: any) => {
              scale.ticks = X_TICKS.map((v) => ({ value: v }));
            },
            afterFit: (scale: any) => {
              scale.height = 38;
            },
            ticks: {
              color: "#000",
              padding: 5,
              maxRotation: 0,
              autoSkip: false,
              font: { family: FONT, size: 13 },
            },
            grid: { color: "rgba(120,120,120,0.7)", lineWidth: 1, drawTicks: false },
            border: { display: true, color: "#777", width: 1, dash: [1, 3] },
            title: {
              display: true,
              text: "Time(ps)",
              color: "#000",
              font: { family: FONT, size: 13 },
              padding: { top: 0, bottom: 1 },
            },
          },
          y: {
            type: "linear",
            min: Y_MIN,
            max: Y_MAX,
            ticks: {
              stepSize: Y_STEP,
              autoSkip: false,
              color: "#000",
              padding: 3,
              font: { family: FONT, size: 13 },
              callback: (v: any) => (Number(v) < 0 ? "\u2212" : "") + Math.abs(Number(v)).toFixed(1),
            },
            afterFit: (scale: any) => {
              scale.width = 58;
            },
            grid: { color: "rgba(120,120,120,0.7)", lineWidth: 1, drawTicks: false },
            border: { display: true, color: "#777", width: 1, dash: [1, 3] },
            title: {
              display: true,
              text: "Potential Energy (eV)",
              color: "#000",
              font: { family: FONT, size: 13 },
              padding: { top: 7, bottom: 0 },
            },
          },
        },
      },
      plugins: [inwardTicks],
    });
    return () => chart.destroy();
  }, []);
  return (
    <div style={{ width: 415, height: 305, background: "#fff" }}>
      <canvas ref={ref} width={415} height={305} style={{ display: "block" }} />
    </div>
  );
}
